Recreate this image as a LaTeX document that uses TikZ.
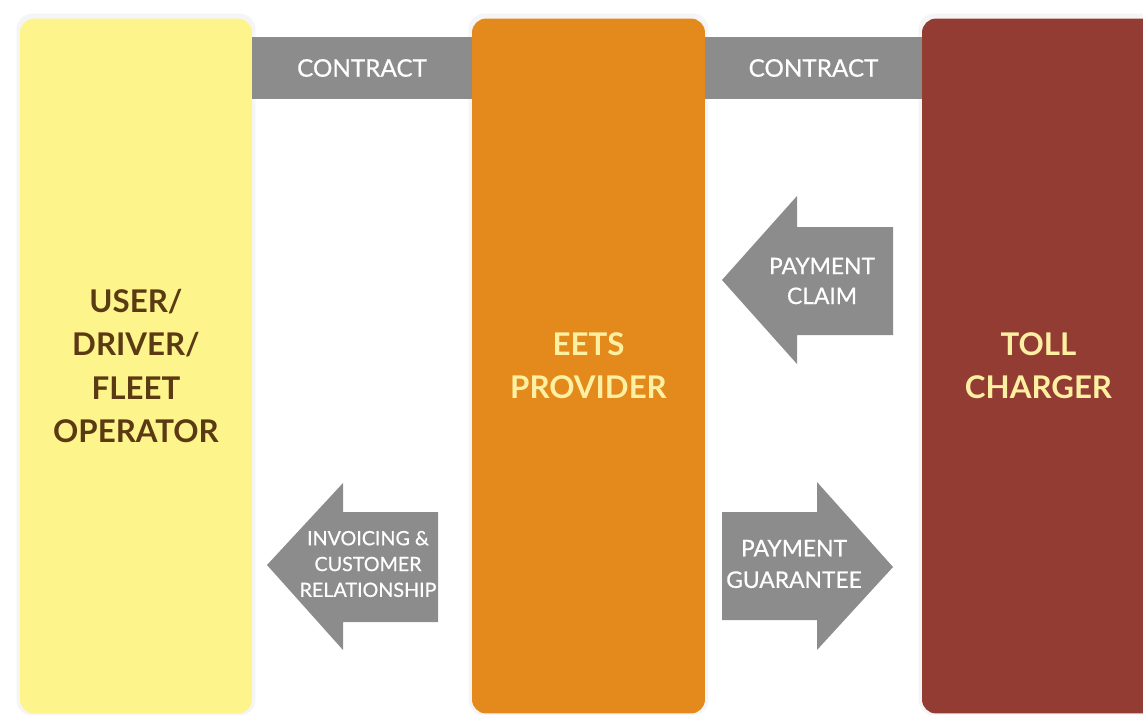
\documentclass[tikz,border=0pt]{standalone}
\usepackage{fontspec}
\setmainfont{Lato}
\newfontfamily\latomedium[FakeBold=0.6]{Lato}
\usetikzlibrary{positioning}
\definecolor{userfill}{HTML}{FDF48C}
\definecolor{eetsfill}{HTML}{E4891B}
\definecolor{tollfill}{HTML}{933C34}
\definecolor{barfill}{HTML}{8C8C8C}
\definecolor{usertext}{HTML}{5A3A12}
\definecolor{lighttext}{HTML}{FDF0A2}
\tikzset{
	pillar/.style={rounded corners=8pt, minimum height=13.9cm, align=center,
		font=\bfseries\fontsize{17.8}{24.6}\selectfont},
	bar/.style={fill=barfill, minimum height=1.24cm, text=white,
		font=\latomedium\fontsize{13.8}{16}\selectfont},
	arrowlabel/.style={text=white, align=center, font=\latomedium\fontsize{13}{17}\selectfont}
}
\begin{document}
\begin{tikzpicture}[x=0.02cm, y=-0.02cm]
		\useasboundingbox (0, 0) rectangle (1143, 714);
		\clip (0, 0) rectangle (1143, 714);
		% shadows
		\foreach \cx/\w in {136/4.64, 588.5/4.66, 1041/4.76}{
			\node[rounded corners=9pt, fill=black!4, minimum width=\w cm + 4pt,
				minimum height=13.9cm + 4pt] at (\cx, 364.5) {};
		}
		% pillars
		\node[pillar, fill=userfill, text=usertext, minimum width=4.64cm] (user) at (136, 366)
			{USER/\\DRIVER/\\FLEET\\OPERATOR};
		\node[pillar, fill=eetsfill, text=lighttext, minimum width=4.66cm] (eets) at (588.5, 366)
			{EETS\\PROVIDER};
		\node[pillar, fill=tollfill, text=lighttext, minimum width=4.76cm, text width=4.3cm] (toll) at (1041, 366)
			{\hspace*{-0.1cm}TOLL\\\hspace*{-0.1cm}CHARGER};
		% contracts
		\node[bar, minimum width=4.4cm] (contractA) at (362, 68) {CONTRACT};
		\node[bar, minimum width=4.34cm] (contractB) at (813.5, 68) {CONTRACT};
		% block arrows
		\fill[barfill] (722, 280) -- (797, 196) -- (797, 227) -- (893, 227) -- (893, 335)
			-- (797, 335) -- (797, 364) -- cycle;
		\fill[barfill] (267, 565) -- (343, 483) -- (343, 512) -- (438, 512) -- (438, 622)
			-- (343, 622) -- (343, 650) -- cycle;
		\fill[barfill] (722, 512) -- (817, 512) -- (817, 482) -- (893, 567) -- (817, 650)
			-- (817, 620) -- (722, 620) -- cycle;
		\node[arrowlabel] (claim) at (822, 281) {PAYMENT\\CLAIM};
		\node[arrowlabel, font=\latomedium\fontsize{11.2}{14.7}\selectfont] (invoicing) at (368, 564)
			{INVOICING \&\\CUSTOMER\\RELATIONSHIP};
		\node[arrowlabel, font=\latomedium\fontsize{13}{18}\selectfont] (guarantee) at (794, 564)
			{PAYMENT\\GUARANTEE};
	\end{tikzpicture}
\end{document}
